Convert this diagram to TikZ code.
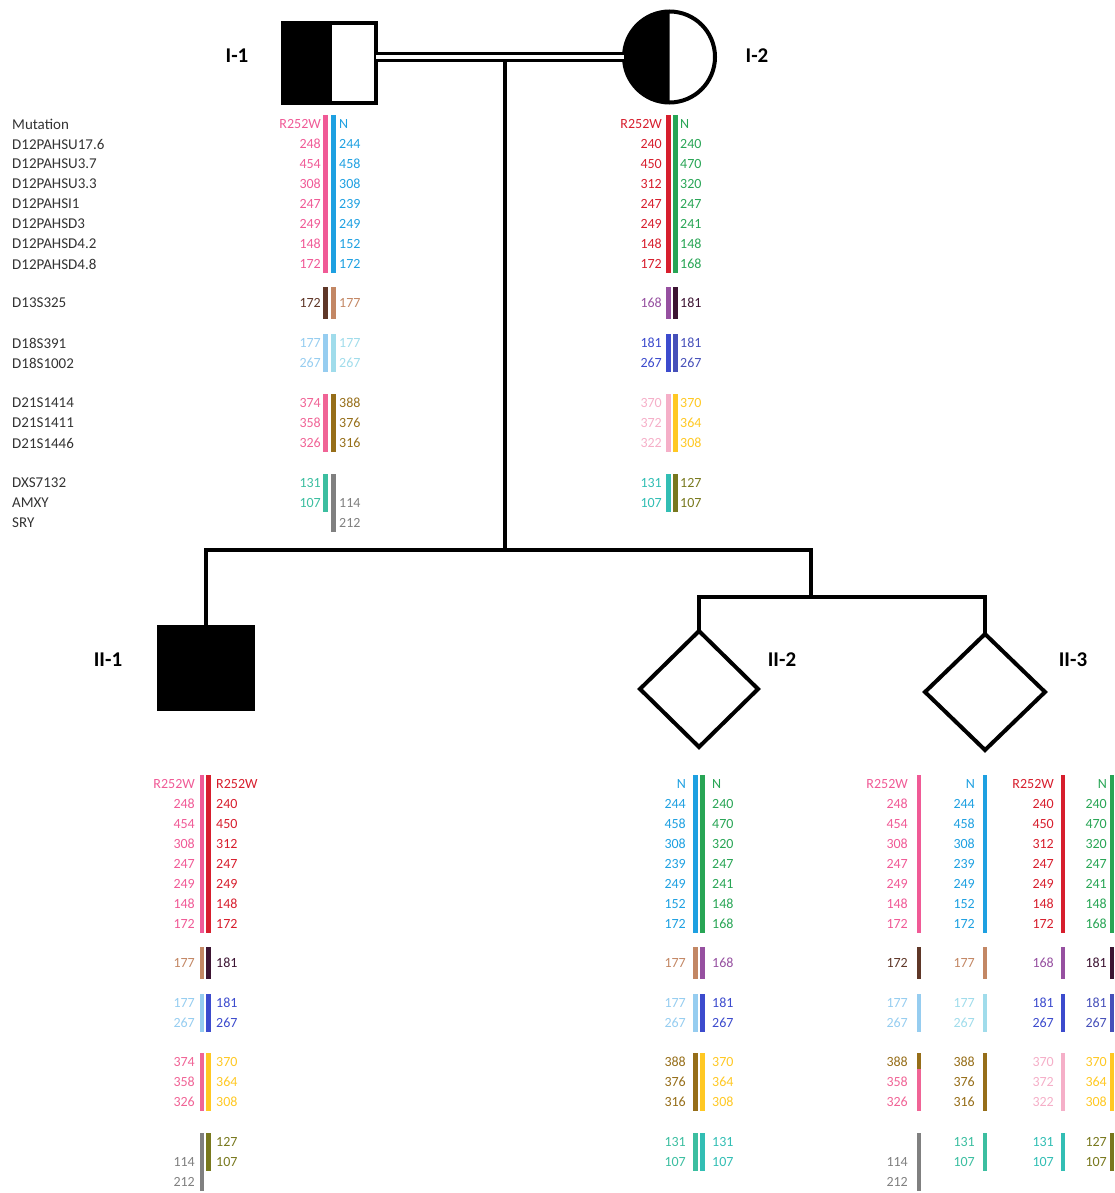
\documentclass[tikz,border=0pt]{standalone}
\usepackage{fontspec}
\setmainfont{Carlito}
\usetikzlibrary{positioning,shapes.geometric}

\definecolor{hpink}{RGB}{240,90,150}
\definecolor{hblue}{RGB}{30,160,225}
\definecolor{hred}{RGB}{215,30,45}
\definecolor{hgreen}{RGB}{40,165,85}
\definecolor{dbrown}{RGB}{95,55,40}
\definecolor{htan}{RGB}{195,135,100}
\definecolor{hpurple}{RGB}{150,80,160}
\definecolor{dpurple}{RGB}{60,20,50}
\definecolor{lblue}{RGB}{150,205,240}
\definecolor{lcyan}{RGB}{160,220,235}
\definecolor{dblue}{RGB}{60,75,205}
\definecolor{dblueb}{RGB}{70,80,185}
\definecolor{rose}{RGB}{240,100,150}
\definecolor{obrown}{RGB}{150,110,25}
\definecolor{lpink}{RGB}{245,175,200}
\definecolor{gold}{RGB}{255,200,35}
\definecolor{hteal}{RGB}{60,190,160}
\definecolor{hteal2}{RGB}{50,190,180}
\definecolor{hgray}{RGB}{128,128,128}
\definecolor{holive}{RGB}{120,120,30}

% one haplotype: bar plus its alleles
% #1 overhang, #2 name, #3 text anchor, #4 bar x, #5 text x, #6 first row, #7 colour, #8 alleles
\newcount\nrows
\newcommand{\haplo}[8][9]{%
  \global\nrows=0
  \foreach \v [count=\k from 0] in {#8}{%
    \node[allele, text=#7, anchor=#3] (#2-\k) at (#5, #6+20*\k) {\v};
    \global\nrows=\k
  }
  \draw[hbar, #7] (#4, #6-#1) -- (#4, #6+20*\the\nrows+#1);
}

\begin{document}
\begin{tikzpicture}[
    x=1pt, y=-1pt,
    allele/.style={inner sep=0pt, font=\fontsize{14}{16}\selectfont},
    mkname/.style={anchor=west, inner sep=0pt, text=black!80,
        font=\fontsize{15}{17}\selectfont},
    hbar/.style={line width=4.5pt},
    indiv/.style={font=\fontsize{21}{24}\selectfont\bfseries},
    sym/.style={draw, line width=4pt, inner sep=0pt, outer sep=0pt},
    link/.style={line width=4pt},
    marriage/.style={line width=3pt, double, double distance=3.5pt}
]
\useasboundingbox (0,0) rectangle (1114,1193);

% Generation I
\node[sym, minimum width=93, minimum height=80] (p1) at (329.5,63) {};
\fill (p1.north west) rectangle ([xshift=2pt]p1.south);
\node[sym, circle, minimum size=91] (p2) at (669.5,57) {};
\fill (p2.north) arc[start angle=270, end angle=90, radius=45.5] -- cycle;

% Generation II
\node[sym, fill=black, minimum width=94, minimum height=82] (c1) at (206,668) {};
\node[sym, diamond, minimum width=118, minimum height=116] (c2) at (699,689) {};
\node[sym, diamond, minimum width=120, minimum height=116] (c3) at (985,692) {};

% Labels
\node[indiv] (l1) at (237,56)  {I-1};
\node[indiv] (l2) at (757,56)  {I-2};
\node[indiv] (l3) at (108,660) {II-1};
\node[indiv] (l4) at (782,660) {II-2};
\node[indiv] (l5) at (1073,660) {II-3};

% Lines of descent
\coordinate (mate)    at (505,60);
\coordinate (sib)     at (505,550);
\coordinate (twin)    at (811,550);
\coordinate (twinbar) at (811,597);
\draw[link] (mate) -- (sib);
\draw[link] (c1.north) |- (twin) -- (twinbar);
\draw[link] (c2.north) |- (twinbar) -| (c3.north);
\draw[marriage] (p1.east |- p2.west) -- (p2.west);

% Marker names
\foreach \t/\y in {Mutation/124, D12PAHSU17.6/144, D12PAHSU3.7/164,
    D12PAHSU3.3/184, D12PAHSI1/204, D12PAHSD3/224, D12PAHSD4.2/244,
    D12PAHSD4.8/264, D13S325/303, D18S391/343, D18S1002/363,
    D21S1414/403, D21S1411/423, D21S1446/443, DXS7132/483, AMXY/503, SRY/523}
  \node[mkname] (m-\y) at (12,\y) {\t};

% I-1 haplotypes
\haplo{a1}{east}{325.5}{321}{124}{hpink}{R252W,248,454,308,247,249,148,172}
\haplo[16]{a2}{east}{325.5}{321}{303}{dbrown}{172}
\haplo{a3}{east}{325.5}{321}{343}{lblue}{177,267}
\haplo{a4}{east}{325.5}{321}{403}{rose}{374,358,326}
\haplo{a5}{east}{325.5}{321}{483}{hteal}{131,107}
\haplo{b1}{west}{333.5}{339}{124}{hblue}{N,244,458,308,239,249,152,172}
\haplo[16]{b2}{west}{333.5}{339}{303}{htan}{177}
\haplo{b3}{west}{333.5}{339}{343}{lcyan}{177,267}
\haplo{b4}{west}{333.5}{339}{403}{obrown}{388,376,316}
\haplo{b5}{west}{333.5}{339}{483}{hgray}{,114,212}

% I-2 haplotypes
\haplo{c1}{east}{668.5}{662}{124}{hred}{R252W,240,450,312,247,249,148,172}
\haplo[16]{c2}{east}{668.5}{662}{303}{hpurple}{168}
\haplo{c3}{east}{668.5}{662}{343}{dblue}{181,267}
\haplo{c4}{east}{668.5}{662}{403}{lpink}{370,372,322}
\haplo{c5}{east}{668.5}{662}{483}{hteal2}{131,107}
\haplo{d1}{west}{675.5}{680}{124}{hgreen}{N,240,470,320,247,241,148,168}
\haplo[16]{d2}{west}{675.5}{680}{303}{dpurple}{181}
\haplo{d3}{west}{675.5}{680}{343}{dblueb}{181,267}
\haplo{d4}{west}{675.5}{680}{403}{gold}{370,364,308}
\haplo{d5}{west}{675.5}{680}{483}{holive}{127,107}

% II-1 haplotypes
\haplo{e1}{east}{202}{195}{784}{hpink}{R252W,248,454,308,247,249,148,172}
\haplo[16]{e2}{east}{202}{195}{963}{htan}{177}
\haplo{e3}{east}{202}{195}{1003}{lblue}{177,267}
\haplo{e4}{east}{202}{195}{1062}{rose}{374,358,326}
\haplo{e5}{east}{202}{195}{1142}{hgray}{,114,212}
\haplo{f1}{west}{208.5}{216}{784}{hred}{R252W,240,450,312,247,249,148,172}
\haplo[16]{f2}{west}{208.5}{216}{963}{dpurple}{181}
\haplo{f3}{west}{208.5}{216}{1003}{dblue}{181,267}
\haplo{f4}{west}{208.5}{216}{1062}{gold}{370,364,308}
\haplo{f5}{west}{208.5}{216}{1142}{holive}{127,107}

% II-2 haplotypes
\haplo{g1}{east}{695.5}{686}{784}{hblue}{N,244,458,308,239,249,152,172}
\haplo[16]{g2}{east}{695.5}{686}{963}{htan}{177}
\haplo{g3}{east}{695.5}{686}{1003}{lblue}{177,267}
\haplo{g4}{east}{695.5}{686}{1062}{obrown}{388,376,316}
\haplo{g5}{east}{695.5}{686}{1142}{hteal}{131,107}
\haplo{h1}{west}{702.5}{712}{784}{hgreen}{N,240,470,320,247,241,148,168}
\haplo[16]{h2}{west}{702.5}{712}{963}{hpurple}{168}
\haplo{h3}{west}{702.5}{712}{1003}{dblue}{181,267}
\haplo{h4}{west}{702.5}{712}{1062}{gold}{370,364,308}
\haplo{h5}{west}{702.5}{712}{1142}{hteal2}{131,107}

% II-3 haplotypes
\haplo{i1}{east}{919}{908}{784}{hpink}{R252W,248,454,308,247,249,148,172}
\haplo[16]{i2}{east}{919}{908}{963}{dbrown}{172}
\haplo{i3}{east}{919}{908}{1003}{lblue}{177,267}
\haplo{i4}{east}{919}{908}{1062}{rose}{,358,326}
\draw[hbar, obrown] (919,1053) -- (919,1069);
\node[allele, text=obrown, anchor=east] (i4-x) at (908,1062) {388};
\haplo{i5}{east}{919}{908}{1142}{hgray}{,114,212}
\haplo{j1}{east}{985}{975}{784}{hblue}{N,244,458,308,239,249,152,172}
\haplo[16]{j2}{east}{985}{975}{963}{htan}{177}
\haplo{j3}{east}{985}{975}{1003}{lcyan}{177,267}
\haplo{j4}{east}{985}{975}{1062}{obrown}{388,376,316}
\haplo{j5}{east}{985}{975}{1142}{hteal}{131,107}
\haplo{k1}{east}{1063}{1054}{784}{hred}{R252W,240,450,312,247,249,148,172}
\haplo[16]{k2}{east}{1063}{1054}{963}{hpurple}{168}
\haplo{k3}{east}{1063}{1054}{1003}{dblue}{181,267}
\haplo{k4}{east}{1063}{1054}{1062}{lpink}{370,372,322}
\haplo{k5}{east}{1063}{1054}{1142}{hteal2}{131,107}
\haplo{n1}{east}{1112}{1107}{784}{hgreen}{N,240,470,320,247,241,148,168}
\haplo[16]{n2}{east}{1112}{1107}{963}{dpurple}{181}
\haplo{n3}{east}{1112}{1107}{1003}{dblueb}{181,267}
\haplo{n4}{east}{1112}{1107}{1062}{gold}{370,364,308}
\haplo{n5}{east}{1112}{1107}{1142}{holive}{127,107}

\end{tikzpicture}
\end{document}
